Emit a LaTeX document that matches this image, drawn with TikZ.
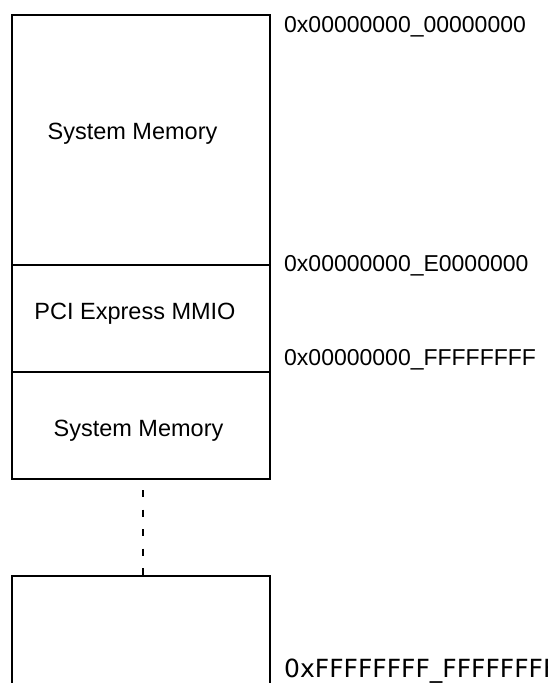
\documentclass[tikz,border=0pt]{standalone}
\usepackage{fontspec}
\setmainfont{Liberation Sans}
\newfontfamily\wideface{DejaVu Sans}
\usetikzlibrary{positioning}

\begin{document}
\begin{tikzpicture}[
    x=1pt, y=-1pt,
    font=\fontsize{23.5}{28}\selectfont,
    region/.style={rectangle, draw=black, line width=2pt, minimum width=258pt,
        inner sep=0pt, outer sep=0pt},
    regiontext/.style={anchor=base, inner sep=0pt},
    addr/.style={anchor=base west, inner sep=0pt, font=\fontsize{23}{27}\selectfont},
]
\useasboundingbox (0,0) rectangle (547,683);
\clip (0,0) rectangle (547,683);

% address map, low end first
\node[region, minimum height=250pt, anchor=north west] (lowmem) at (12,15) {};
\node[region, minimum height=107pt, below=0pt of lowmem] (mmio) {};
\node[region, minimum height=107pt, below=0pt of mmio] (highmem) {};
\node[region, minimum height=140pt, anchor=north west] (topmem) at (12,576) {};

\node[regiontext] (lowname) at (132.5,139) {System Memory};
\node[regiontext] (mmioname) at (135,319) {PCI Express MMIO};
\node[regiontext] (highname) at (138.5,436) {System Memory};

\draw[line width=2pt, dash pattern=on 7pt off 12.5pt]
    ([xshift=1.5pt, yshift=-11pt]highmem.south) -- ([xshift=1.5pt]topmem.north);

\node[addr] (a0) at (284,32) {0x00000000\_00000000};
\node[addr] (a1) at (284,271) {0x00000000\_E0000000};
\node[addr] (a2) at (284,365) {0x00000000\_FFFFFFFF};
\node[addr, font=\wideface\fontsize{25}{29}\selectfont] (a3) at (284,677) {0xFFFFFFFF\_FFFFFFFF};

\end{tikzpicture}
\end{document}
